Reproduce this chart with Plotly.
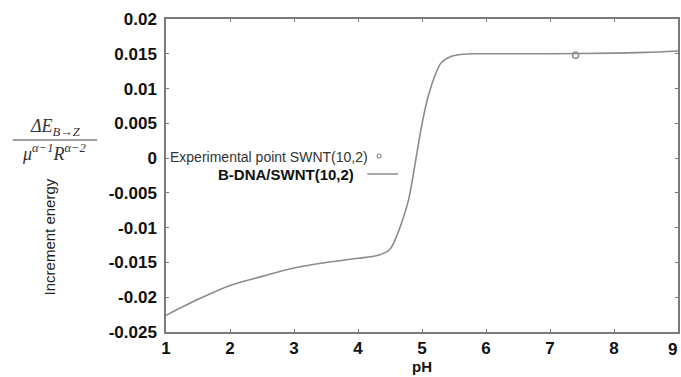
import plotly.graph_objects as go

# B-DNA/SWNT(10,2) increment energy versus pH
ph = [1.0, 1.5, 2.0, 2.5, 3.0, 3.5, 4.0, 4.3, 4.5, 4.6, 4.7, 4.8, 4.9,
      5.0, 5.1, 5.2, 5.3, 5.45, 5.6, 5.8, 6.0, 7.0, 8.0, 8.5, 9.0]
energy = [-0.0226, -0.0203, -0.0183, -0.0170, -0.0158, -0.0150, -0.0144,
          -0.0140, -0.0131, -0.0113, -0.0088, -0.0056, -0.0004, 0.0049,
          0.0090, 0.0118, 0.0137, 0.0146, 0.0149, 0.0150, 0.0150, 0.0150,
          0.0151, 0.0152, 0.0154]

# Experimental point SWNT(10,2)
exp_ph = [7.4]
exp_energy = [0.0148]

x_ticks = [1, 2, 3, 4, 5, 6, 7, 8, 9]
y_ticks = [0.02, 0.015, 0.01, 0.005, 0, -0.005, -0.01, -0.015, -0.02, -0.025]
y_tick_text = ["0.02", "0.015", "0.01", "0.005", "0", "-0.005", "-0.01",
               "-0.015", "-0.02", "-0.025"]

W, H = 681, 377
ML, MR, MT, MB = 166, 1, 19, 45
line_col = "#8c8c8c"
axis_col = "#7a7a7a"
sans = "Liberation Sans, Arial, sans-serif"
tick_font = dict(family=sans, size=17, color="#111")

fig = go.Figure()
fig.add_trace(go.Scatter(x=ph, y=energy, mode="lines",
                         line=dict(color=line_col, width=1.6, shape="spline", smoothing=0.8),
                         showlegend=False, hoverinfo="skip"))
fig.add_trace(go.Scatter(x=exp_ph, y=exp_energy, mode="markers",
                         marker=dict(symbol="circle-open", size=6, color=line_col,
                                     line=dict(width=1.5, color=line_col)),
                         showlegend=False, hoverinfo="skip"))

axis_common = dict(showgrid=False, zeroline=False, showline=True, linecolor=axis_col,
                   linewidth=1.5, mirror="ticks", ticks="inside", ticklen=3,
                   tickcolor=axis_col, tickfont=tick_font)
# the last x label sits on the page edge, so it is added as an annotation below
fig.update_xaxes(range=[1, 9], tickvals=x_ticks,
                 ticktext=["<b>%d</b>" % v if v < 9 else "" for v in x_ticks],
                 title=dict(text="<b>pH</b>", standoff=1,
                            font=dict(family=sans, size=15, color="#111")),
                 **axis_common)
fig.update_yaxes(range=[-0.025, 0.02], tickvals=y_ticks,
                 ticktext=["<b>%s</b>" % t for t in y_tick_text],
                 ticklabelstandoff=4, **axis_common)


def px(x):
    return (x - ML) / (W - ML - MR)


def py(y):
    return 1 - (y - MT) / (H - MT - MB)


annotations = []
annotations.append(dict(x=x_ticks[-1], y=py(349), xref="x", yref="paper",
                        text="<b>%d</b>" % x_ticks[-1], showarrow=False,
                        xanchor="right", yanchor="middle", xshift=1, font=tick_font))
# legend entries, text right-aligned with sample to the right
annotations.append(dict(x=px(371), y=py(157), xref="paper", yref="paper",
                        text="Experimental point SWNT(10,2)", showarrow=False,
                        xanchor="right", yanchor="middle",
                        font=dict(family="Liberation Sans Narrow, Liberation Sans, Arial",
                                  size=14, color="#333")))
annotations.append(dict(x=px(357), y=py(174), xref="paper", yref="paper",
                        text="<b>B-DNA/SWNT(10,2)</b>", showarrow=False,
                        xanchor="right", yanchor="middle",
                        font=dict(family=sans, size=15, color="#111")))
# y-axis label: fraction and caption
serif = "Liberation Serif, DejaVu Serif, serif"
annotations.append(dict(x=px(55), y=py(128), xref="paper", yref="paper",
                        text="<i>ΔE</i><sub><i>B→Z</i></sub>", showarrow=False,
                        xanchor="center", yanchor="middle",
                        font=dict(family=serif, size=18, color="#333")))
annotations.append(dict(x=px(54), y=py(152), xref="paper", yref="paper",
                        text="<i>μ</i><sup><i>α−1</i></sup><i>R</i><sup><i>α−2</i></sup>",
                        showarrow=False, xanchor="center", yanchor="middle",
                        font=dict(family=serif, size=18, color="#333")))
annotations.append(dict(x=px(49), y=py(237), xref="paper", yref="paper",
                        text="Increment energy", showarrow=False, textangle=-90,
                        xanchor="center", yanchor="middle",
                        font=dict(family=sans, size=15, color="#222")))

shapes = [
    # fraction bar
    dict(type="line", xref="paper", yref="paper", x0=px(12), x1=px(97),
         y0=py(140), y1=py(140), line=dict(color="#444", width=1)),
    # legend samples
    dict(type="circle", xref="paper", yref="paper", x0=px(378), x1=px(382),
         y0=py(154), y1=py(158), line=dict(color=line_col, width=1.2)),
    dict(type="line", xref="paper", yref="paper", x0=px(368), x1=px(399),
         y0=py(174), y1=py(174), line=dict(color=line_col, width=1.5)),
]

fig.update_layout(width=W, height=H, margin=dict(l=ML, r=MR, t=MT, b=MB),
                  paper_bgcolor="white", plot_bgcolor="white",
                  annotations=annotations, shapes=shapes, showlegend=False)

fig.write_html("out.html")
